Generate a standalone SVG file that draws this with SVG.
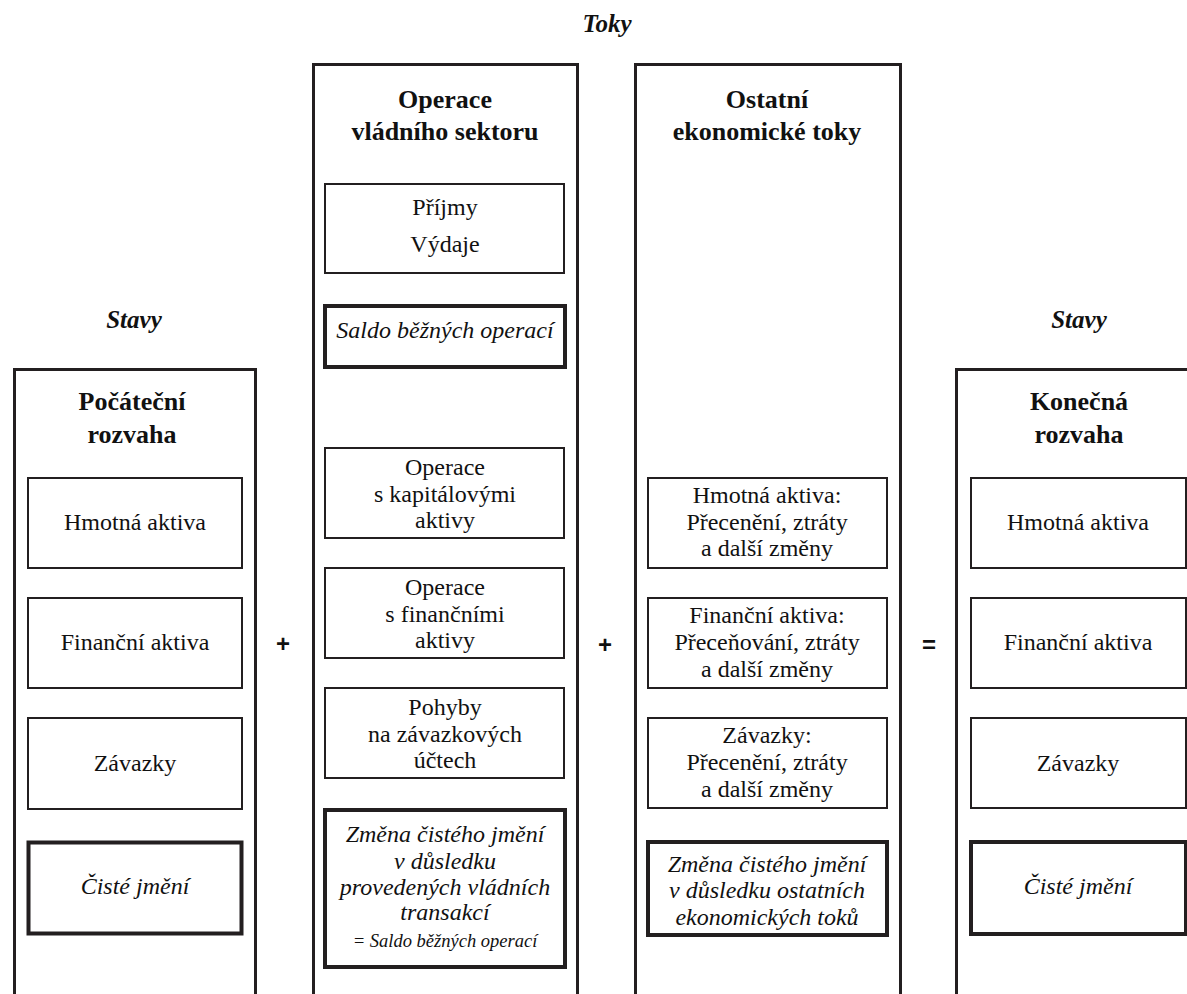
<svg xmlns="http://www.w3.org/2000/svg" width="1187" height="994" viewBox="0 0 1187 994">
<style>
.col{fill:none;stroke:#231f20;stroke-width:3}
.box{fill:#fff;stroke:#231f20;stroke-width:2}
.tbox{fill:#fff;stroke:#231f20;stroke-width:4}
text{font-family:"Liberation Serif","Times New Roman",serif;fill:#111;text-anchor:middle}
.t{font-size:24px}
.i{font-size:24px;font-style:italic}
.s{font-size:18.5px;font-style:italic}
.h{font-size:26px;font-weight:bold}
.hi{font-size:25px;font-weight:bold;font-style:italic}
.op{font-family:"Liberation Sans",Arial,sans-serif;font-size:24px;font-weight:bold}
</style>
<rect width="1187" height="994" fill="#fff"/>
<g id="headers">
<text class="hi" x="607" y="32">Toky</text>
<text class="hi" x="134" y="328">Stavy</text>
<text class="hi" x="1079" y="328">Stavy</text>
</g>
<g id="col-pocatecni">
<path class="col" d="M14.5 996 V369.5 H255.5 V996"/>
<text class="h" x="132" y="410">Počáteční</text>
<text class="h" x="132" y="443">rozvaha</text>
<g id="p-hmotna"><rect class="box" x="28" y="478" width="214" height="90"/><text class="t" x="135" y="530">Hmotná aktiva</text></g>
<g id="p-financni"><rect class="box" x="28" y="598" width="214" height="90"/><text class="t" x="135" y="650">Finanční aktiva</text></g>
<g id="p-zavazky"><rect class="box" x="28" y="718" width="214" height="91"/><text class="t" x="135" y="771">Závazky</text></g>
<g id="p-ciste"><rect class="tbox" x="28.5" y="842.5" width="213" height="91"/><text class="i" x="135" y="894">Čisté jmění</text></g>
</g>
<g id="col-operace">
<path class="col" d="M313.5 996 V64.5 H577.5 V996"/>
<text class="h" x="445" y="108">Operace</text>
<text class="h" x="445" y="140">vládního sektoru</text>
<g id="o-prijmy"><rect class="box" x="325" y="184" width="239" height="89"/><text class="t" x="445" y="215">Příjmy</text><text class="t" x="445" y="252">Výdaje</text></g>
<g id="o-saldo"><rect class="tbox" x="325" y="306" width="240" height="61"/><text class="i" x="445" y="338">Saldo běžných operací</text></g>
<g id="o-kap"><rect class="box" x="325" y="448" width="239" height="90"/><text class="t" x="445" y="475">Operace</text><text class="t" x="445" y="502">s kapitálovými</text><text class="t" x="445" y="528">aktivy</text></g>
<g id="o-fin"><rect class="box" x="325" y="568" width="239" height="90"/><text class="t" x="445" y="595">Operace</text><text class="t" x="445" y="622">s finančními</text><text class="t" x="445" y="648">aktivy</text></g>
<g id="o-pohyby"><rect class="box" x="325" y="688" width="239" height="90"/><text class="t" x="445" y="715">Pohyby</text><text class="t" x="445" y="742">na závazkových</text><text class="t" x="445" y="768">účtech</text></g>
<g id="o-zmena"><rect class="tbox" x="325" y="810" width="240" height="157"/><text class="i" x="445" y="842">Změna čistého jmění</text><text class="i" x="445" y="869">v důsledku</text><text class="i" x="445" y="895">provedených vládních</text><text class="i" x="445" y="920">transakcí</text><text class="s" x="445" y="947">= Saldo běžných operací</text></g>
</g>
<g id="col-ostatni">
<path class="col" d="M635.5 996 V64.5 H900.5 V996"/>
<text class="h" x="767" y="108">Ostatní</text>
<text class="h" x="767" y="140">ekonomické toky</text>
<g id="e-hmotna"><rect class="box" x="648" y="478" width="239" height="90"/><text class="t" x="767" y="503">Hmotná aktiva:</text><text class="t" x="767" y="530">Přecenění, ztráty</text><text class="t" x="767" y="556">a další změny</text></g>
<g id="e-financni"><rect class="box" x="648" y="598" width="239" height="90"/><text class="t" x="767" y="623">Finanční aktiva:</text><text class="t" x="767" y="650">Přeceňování, ztráty</text><text class="t" x="767" y="677">a další změny</text></g>
<g id="e-zavazky"><rect class="box" x="648" y="718" width="239" height="90"/><text class="t" x="767" y="743">Závazky:</text><text class="t" x="767" y="770">Přecenění, ztráty</text><text class="t" x="767" y="797">a další změny</text></g>
<g id="e-zmena"><rect class="tbox" x="648" y="842" width="239" height="93"/><text class="i" x="767" y="872">Změna čistého jmění</text><text class="i" x="767" y="898">v důsledku ostatních</text><text class="i" x="767" y="925">ekonomických toků</text></g>
</g>
<g id="col-konecna">
<path class="col" d="M956.5 996 V369.5 H1200"/>
<text class="h" x="1079" y="410">Konečná</text>
<text class="h" x="1079" y="443">rozvaha</text>
<g id="k-hmotna"><rect class="box" x="971" y="478" width="215" height="90"/><text class="t" x="1078" y="530">Hmotná aktiva</text></g>
<g id="k-financni"><rect class="box" x="971" y="598" width="215" height="90"/><text class="t" x="1078" y="650">Finanční aktiva</text></g>
<g id="k-zavazky"><rect class="box" x="971" y="718" width="215" height="90"/><text class="t" x="1078" y="771">Závazky</text></g>
<g id="k-ciste"><rect class="tbox" x="971" y="842" width="215" height="92"/><text class="i" x="1078" y="894">Čisté jmění</text></g>
</g>
<g id="operators">
<text class="op" x="283" y="652">+</text>
<text class="op" x="605" y="653">+</text>
<text class="op" x="929" y="653">=</text>
</g>
</svg>
